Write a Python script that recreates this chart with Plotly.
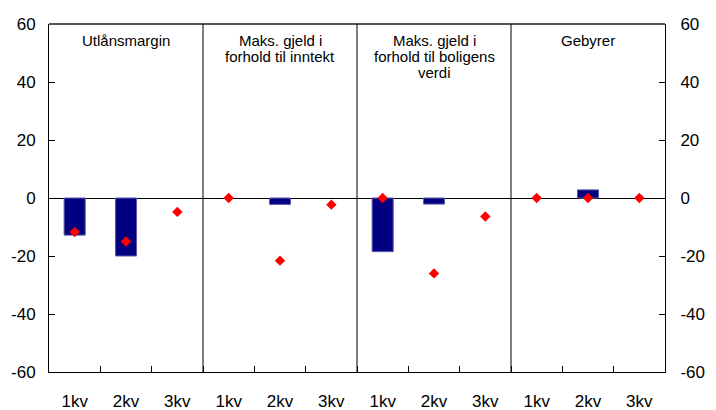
import plotly.graph_objects as go

quarters = ["1kv", "2kv", "3kv"]
panels = [
    ["Utlånsmargin"],
    ["Maks. gjeld i", "forhold til inntekt"],
    ["Maks. gjeld i", "forhold til boligens", "verdi"],
    ["Gebyrer"],
]
bar_values = [-12.8, -20.0, None, None, -2.2, None, -18.5, -2.1, None, None, 2.8, None]
dot_values = [-11.7, -15.0, -4.8, 0.0, -21.6, -2.3, 0.0, -26.0, -6.4, 0.0, 0.0, 0.0]
y_ticks = [-60, -40, -20, 0, 20, 40, 60]
y_tick_text = [str(v) for v in y_ticks]  # plain hyphen minus, as in the reference

n_q = len(quarters)
n = n_q * len(panels)
xs = list(range(n))
labels = quarters * len(panels)

FONT = "Liberation Sans, Arial, sans-serif"

fig = go.Figure()
fig.add_trace(go.Bar(
    x=xs, y=bar_values, width=0.41,
    marker=dict(color="#000080", line=dict(color="#5a5aa8", width=1)),
    showlegend=False,
))
fig.add_trace(go.Scatter(
    x=xs, y=dot_values, mode="markers",
    marker=dict(symbol="diamond", size=8, color="#ff0000"),
    showlegend=False,
))
# invisible trace for secondary axes
fig.add_trace(go.Scatter(x=[xs[0]], y=[0], xaxis="x2", yaxis="y2",
                         mode="markers", marker=dict(opacity=0), showlegend=False, hoverinfo="skip"))

fig.update_layout(
    width=708, height=402,
    margin=dict(l=41, r=51, t=16, b=38, autoexpand=False),
    paper_bgcolor="white", plot_bgcolor="white",
    font=dict(family=FONT, size=17, color="black"),
    xaxis=dict(
        range=[-0.5, n - 0.5], tickvals=xs, ticktext=labels,
        ticks="", showgrid=False, zeroline=False, automargin=False,
        showline=True, linecolor="black", linewidth=1, mirror=False,
        ticklabelstandoff=14,
    ),
    xaxis2=dict(
        range=[-0.5, n - 0.5], overlaying="x", side="bottom",
        tickvals=[i + 0.5 for i in range(n - 1)], ticktext=[""] * (n - 1),
        ticks="inside", ticklen=6, tickcolor="black", showgrid=False,
        zeroline=False, showline=False, showticklabels=False, automargin=False,
    ),
    yaxis=dict(
        range=[-60, 60], tickvals=y_ticks, ticktext=y_tick_text,
        ticks="inside", ticklen=6,
        tickcolor="black", showgrid=False, zeroline=True, zerolinecolor="black",
        zerolinewidth=1, showline=True, linecolor="black", linewidth=1,
        ticklabelstandoff=9, automargin=False,
    ),
    yaxis2=dict(
        range=[-60, 60], tickvals=y_ticks, ticktext=y_tick_text,
        ticks="inside", ticklen=6,
        tickcolor="black", overlaying="y", side="right", showgrid=False,
        zeroline=False, showline=True, linecolor="black", linewidth=1,
        ticklabelstandoff=11, automargin=False,
    ),
)

# top frame line
fig.add_shape(type="line", xref="paper", yref="paper", x0=0, x1=1, y0=1, y1=1,
              line=dict(color="#555555", width=2))
# panel dividers
for p in range(1, len(panels)):
    xb = p * n_q - 0.5
    fig.add_shape(type="line", xref="x", yref="paper", x0=xb, x1=xb, y0=0, y1=1,
                  line=dict(color="black", width=1))

# panel titles
for p, lines in enumerate(panels):
    xc = p * n_q + (n_q - 1) / 2
    for k, line in enumerate(lines):
        fig.add_annotation(x=xc, xref="x", y=1, yref="paper", yshift=-16 - 16 * k,
                           text=line, showarrow=False, yanchor="middle",
                           font=dict(family=FONT, size=15, color="black"))

fig.write_html("out.html")
